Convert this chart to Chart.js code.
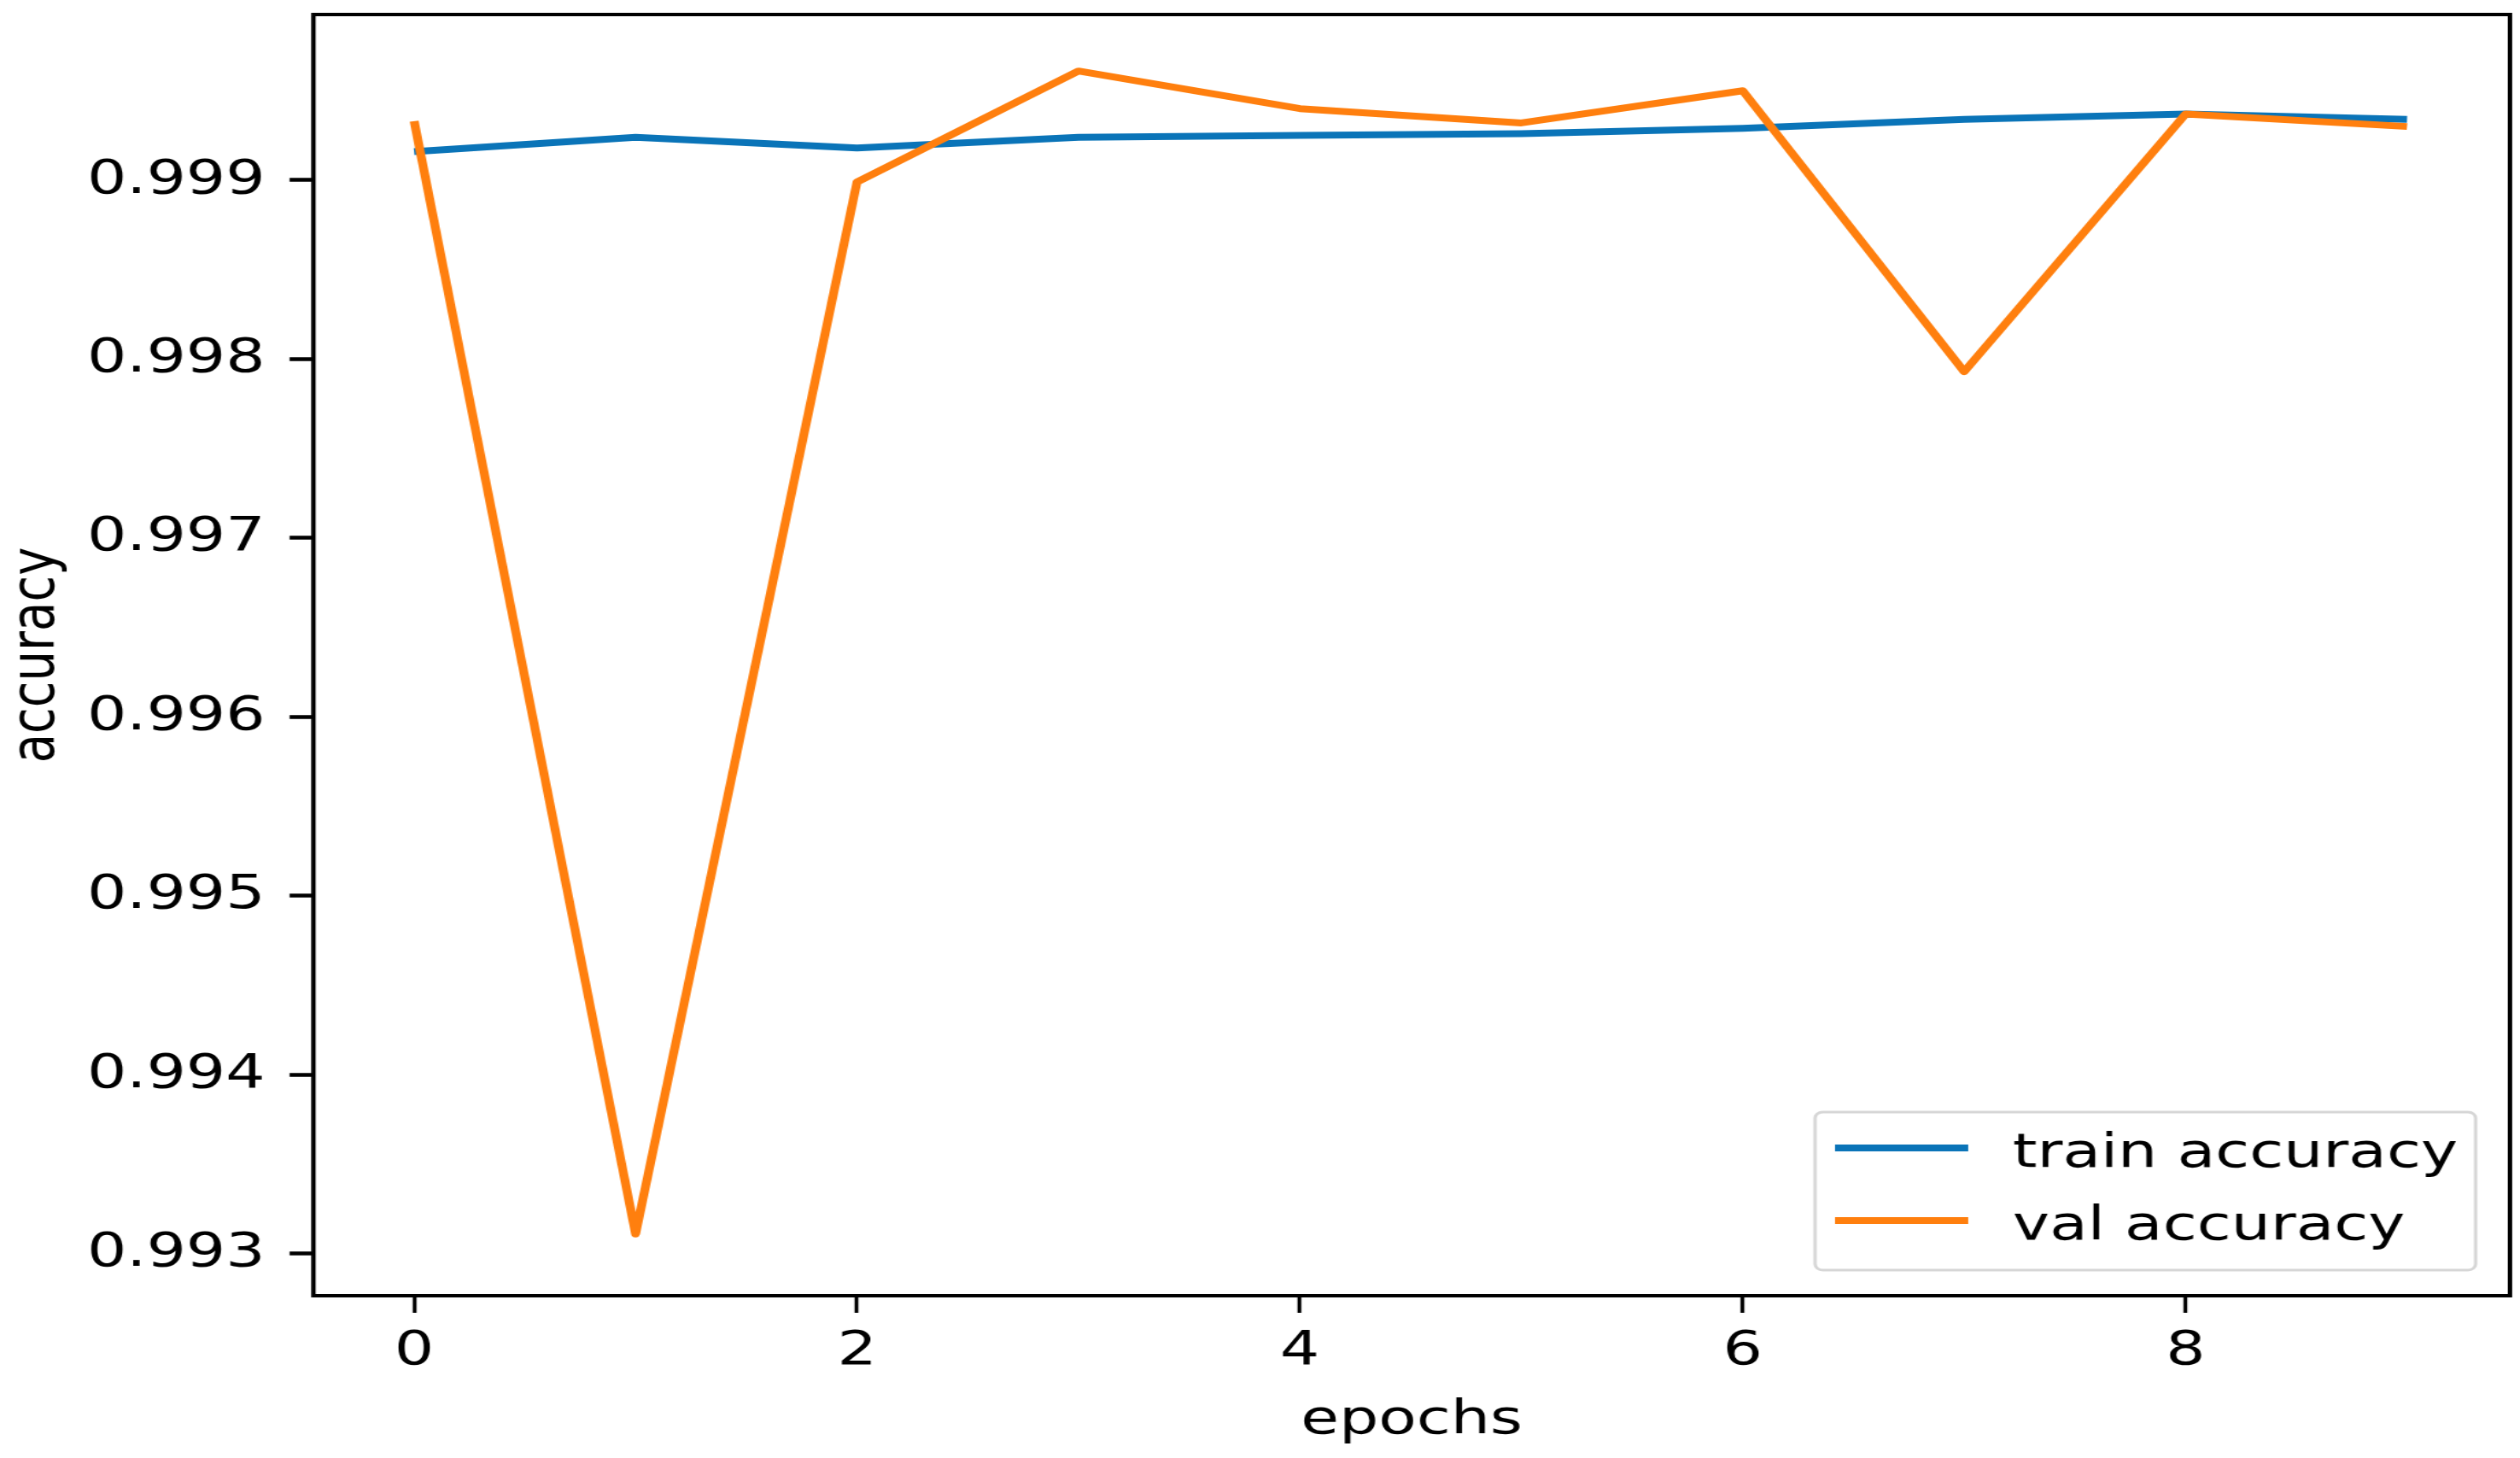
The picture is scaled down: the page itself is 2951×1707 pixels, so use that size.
<!DOCTYPE html>
<html>
<head>
<meta charset="utf-8">
<script src="https://cdn.jsdelivr.net/npm/chart.js@4/dist/chart.umd.min.js"></script>
<style>
  html, body { margin: 0; padding: 0; background: #fff; }
</style>
</head>
<body>
<!-- the reference is stretched sideways, so the canvas is drawn narrow and widened by its inline style -->
<canvas id="accChart" width="2270" height="1707" style="width:2951px;height:1707px;display:block"></canvas>
<script>
/* ── DATA ── */
const epochs = [0, 1, 2, 3, 4, 5, 6, 7, 8, 9];
const trainAcc = [0.99916, 0.99924, 0.99918, 0.99924, 0.99925, 0.99926, 0.99929, 0.99934, 0.99937, 0.99934];
const valAcc = [0.99933, 0.99311, 0.99899, 0.99961, 0.99940, 0.99932, 0.99950, 0.99793, 0.99937, 0.99930];
const xTicks = [0, 2, 4, 6, 8];
const yTicks = [0.993, 0.994, 0.995, 0.996, 0.997, 0.998, 0.999];

const FONT = { family: "'DejaVu Sans', sans-serif", size: 56 };
const BLUE = "#0a74b8";
const ORANGE = "#ff7f0e";

// box round the plot area (matplotlib spines)
const frame = {
    id: "frame",
    afterDatasetsDraw(chart) {
        const { ctx, chartArea: a } = chart;
        ctx.save();
        ctx.strokeStyle = "#000";
        ctx.lineWidth = 4;
        ctx.strokeRect(a.left, a.top, a.right - a.left, a.bottom - a.top);
        ctx.restore();
    },
};

// legend box in the lower right corner, labels taken from the datasets
const cornerLegend = {
    id: "cornerLegend",
    afterDraw(chart) {
        const { ctx, chartArea: a } = chart;
        const w = 595, h = 185;
        const x = a.right - 31 - w;
        const y = a.bottom - 30 - h;
        ctx.save();
        ctx.fillStyle = "rgba(255,255,255,0.8)";
        ctx.strokeStyle = "rgba(204,204,204,0.8)";
        ctx.lineWidth = 3;
        ctx.beginPath();
        ctx.roundRect(x, y, w, h, 7);
        ctx.fill();
        ctx.stroke();
        ctx.font = `${FONT.size}px ${FONT.family}`;
        ctx.textBaseline = "middle";
        ctx.fillStyle = "#000";
        chart.data.datasets.forEach((ds, i) => {
            const ry = y + 42 + i * 85;
            ctx.strokeStyle = ds.borderColor;
            ctx.lineWidth = 8;
            ctx.beginPath();
            ctx.moveTo(x + 18, ry);
            ctx.lineTo(x + 138, ry);
            ctx.stroke();
            ctx.fillText(ds.label, x + 178, ry + 7);
        });
        ctx.restore();
    },
};

const ctx = document.getElementById("accChart").getContext("2d");

new Chart(ctx, {
    type: "line",
    data: {
        datasets: [
            {
                label: "train accuracy",
                data: epochs.map((e, i) => ({ x: e, y: trainAcc[i] })),
                borderColor: BLUE,
                backgroundColor: BLUE,
                borderWidth: 8,
                pointRadius: 0,
                tension: 0,
                borderJoinStyle: "round",
                order: 1,
            },
            {
                label: "val accuracy",
                data: epochs.map((e, i) => ({ x: e, y: valAcc[i] })),
                borderColor: ORANGE,
                backgroundColor: ORANGE,
                borderWidth: 8,
                pointRadius: 0,
                tension: 0,
                borderJoinStyle: "round",
                order: 0,
            },
        ],
    },
    options: {
        responsive: false,
        animation: false,
        devicePixelRatio: 1,
        layout: { padding: { left: 0, right: 9, top: 17, bottom: 0 } },
        plugins: {
            legend: { display: false },
            tooltip: { enabled: false },
        },
        scales: {
            x: {
                type: "linear",
                min: -0.455,
                max: 9.465,
                afterBuildTicks: (s) => { s.ticks = xTicks.map((v) => ({ value: v })); },
                afterFit: (s) => {
                    s.height = 190;
                    s.paddingLeft = 0;
                    s.paddingRight = 0;
                },
                border: { display: false },
                grid: {
                    drawOnChartArea: false,
                    drawTicks: true,
                    tickLength: 20,
                    tickWidth: 3.5,
                    tickColor: "#000",
                },
                ticks: {
                    color: "#000",
                    font: FONT,
                    padding: 12,
                    maxRotation: 0,
                    callback: (v) => String(v),
                },
                title: {
                    display: true,
                    text: "epochs",
                    color: "#000",
                    font: FONT,
                    padding: { top: 0, bottom: 10 },
                },
            },
            y: {
                type: "linear",
                min: 0.992765,
                max: 0.999926,
                afterBuildTicks: (s) => { s.ticks = yTicks.map((v) => ({ value: v })); },
                afterFit: (s) => {
                    s.width = 282.3;
                    s.paddingTop = 0;
                    s.paddingBottom = 0;
                },
                border: { display: false },
                grid: {
                    drawOnChartArea: false,
                    drawTicks: true,
                    tickLength: 21.5,
                    tickWidth: 4.5,
                    tickColor: "#000",
                },
                ticks: {
                    color: "#000",
                    font: FONT,
                    padding: 22,
                    callback: (v) => v.toFixed(3),
                },
                title: {
                    display: true,
                    text: "accuracy",
                    color: "#000",
                    font: FONT,
                    padding: { top: 0, bottom: 0 },
                },
            },
        },
    },
    plugins: [frame, cornerLegend],
});
</script>
</body>
</html>
